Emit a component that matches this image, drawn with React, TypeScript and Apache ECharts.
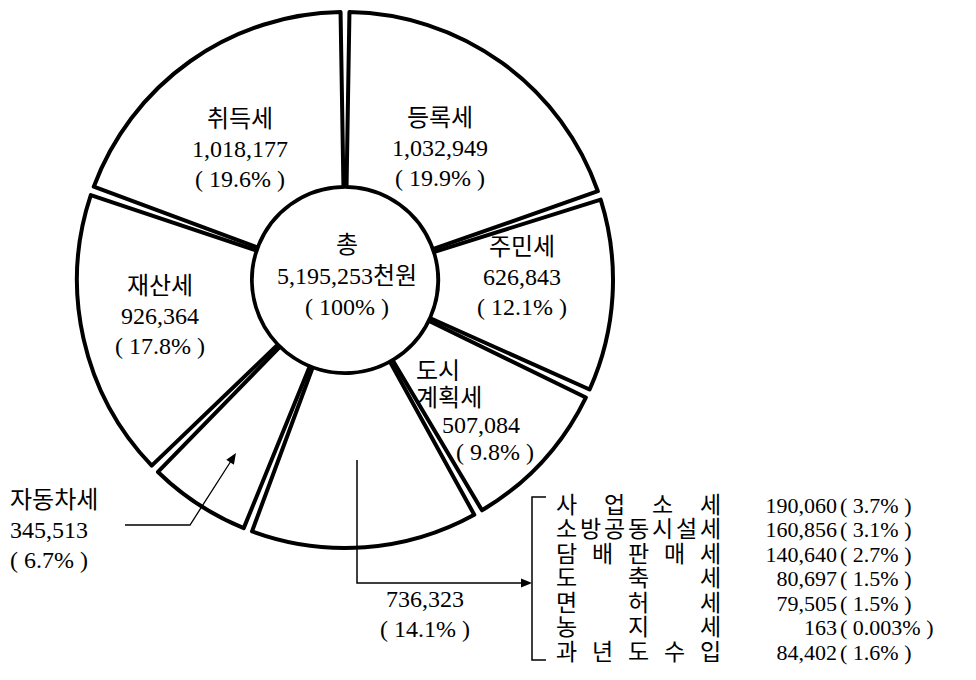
import React, { useEffect, useRef } from "react";
import * as echarts from "echarts";

// ---- data ----
const totalTitle = "총";
const totalValueText = "5,195,253천원";
const totalPercentText = "100";

const taxLabels = ["등록세", "주민세", "도시\n계획세", "", "자동차세", "재산세", "취득세"];
const taxKeys = ["등록세", "주민세", "도시계획세", "기타", "자동차세", "재산세", "취득세"];
const taxValues = [1032949, 626843, 507084, 736323, 345513, 926364, 1018177];
const taxPercents = ["19.9", "12.1", "9.8", "14.1", "6.7", "17.8", "19.6"];

const subNames = ["사업소세", "소방공동시설세", "담배판매세", "도축세", "면허세", "농지세", "과년도수입"];
const subValues = [190060, 160856, 140640, 80697, 79505, 163, 84402];
const subPercents = ["3.7", "3.1", "2.7", "1.5", "1.5", "0.003", "1.6"];

// ---- layout (not data) ----
const CX = 345;
const CY = 280;
const LABEL_POS: { x: number; y: number; align: string }[] = [
  { x: 440, y: 148, align: "center" },
  { x: 522, y: 277, align: "center" },
  { x: 416, y: 411, align: "left" },
  { x: 425, y: 614, align: "center" },
  { x: 10, y: 530, align: "left" },
  { x: 160, y: 316, align: "center" },
  { x: 240, y: 149, align: "center" },
];
const LIST_TOP = 505;
const LIST_STEP = 24.5;
const NAME_X0 = 555;
const NAME_W = 167;
const VALUE_RIGHT = 837;

const FONT = "'Liberation Serif', 'Noto Sans CJK KR', serif";

function fmt(v: number) {
  return v.toLocaleString("en-US");
}

function arrowHead(from: number[], to: number[], len = 11, half = 4.5) {
  const dx = to[0] - from[0];
  const dy = to[1] - from[1];
  const d = Math.hypot(dx, dy);
  const ux = dx / d;
  const uy = dy / d;
  const bx = to[0] - ux * len;
  const by = to[1] - uy * len;
  return [
    [to[0], to[1]],
    [bx - uy * half, by + ux * half],
    [bx + uy * half, by - ux * half],
  ];
}

export default function App() {
  const ref = useRef<HTMLDivElement>(null);
  useEffect(() => {
    document.body.style.margin = "0";
    const chart = echarts.init(ref.current!, null, { renderer: "svg" });

    const pieData = taxValues.map((v, i) => ({ name: taxKeys[i], value: v }));

    const graphics: any[] = [];
    const Z = 100;
    // connector of the "others" slice to the bracket
    const othersPts = [
      [357, 460],
      [357, 583],
      [532, 583],
    ];
    graphics.push({
      type: "polyline",
      z: Z,
      shape: { points: [othersPts[0], othersPts[1], [522, 583]] },
      style: { stroke: "#000", lineWidth: 1.5, fill: null },
    });
    graphics.push({
      type: "polygon",
      z: Z,
      shape: { points: arrowHead(othersPts[1], othersPts[2]) },
      style: { fill: "#000" },
    });
    // connector of 자동차세
    const carPts = [
      [125, 525],
      [190, 525],
      [236, 453],
    ];
    graphics.push({
      type: "polyline",
      z: Z,
      shape: { points: [carPts[0], carPts[1], [231, 461]] },
      style: { stroke: "#000", lineWidth: 1.3, fill: null },
    });
    graphics.push({
      type: "polygon",
      z: Z,
      shape: { points: arrowHead(carPts[1], carPts[2]) },
      style: { fill: "#000" },
    });
    // bracket
    const bTop = LIST_TOP - 8;
    const bBot = LIST_TOP + LIST_STEP * (subNames.length - 1) + 8;
    graphics.push({
      type: "polyline",
      z: Z,
      shape: {
        points: [
          [546, bTop],
          [532, bTop],
          [532, bBot],
          [546, bBot],
        ],
      },
      style: { stroke: "#000", lineWidth: 1.5, fill: null },
    });
    // list of sub items
    const numFont = `22px ${FONT}`;
    subNames.forEach((name, i) => {
      const y = LIST_TOP + LIST_STEP * i;
      const chars = Array.from(name);
      const fs = 23;
      const n = chars.length;
      chars.forEach((ch, k) => {
        const cx = n > 1 ? NAME_X0 + fs / 2 + (k * (NAME_W - fs)) / (n - 1) : NAME_X0 + fs / 2;
        graphics.push({
          type: "text",
          z: Z,
          x: cx,
          y,
          style: { text: ch, font: `${fs}px ${FONT}`, fill: "#000", align: "center", verticalAlign: "middle" },
        });
      });
      graphics.push({
        type: "text",
        z: Z,
        x: VALUE_RIGHT,
        y,
        style: { text: fmt(subValues[i]), font: numFont, fill: "#000", align: "right", verticalAlign: "middle" },
      });
      graphics.push({
        type: "text",
        z: Z,
        x: VALUE_RIGHT + 3,
        y,
        style: {
          text: `( ${subPercents[i]}% )`,
          font: numFont,
          fill: "#000",
          align: "left",
          verticalAlign: "middle",
        },
      });
    });

    const option: any = {
      animation: false,
      backgroundColor: "#fff",
      graphic: graphics,
      series: [
        {
          type: "pie",
          center: [CX, CY],
          radius: [93, 268],
          startAngle: 90,
          clockwise: true,
          padAngle: 1.9,
          silent: true,
          avoidLabelOverlap: false,
          itemStyle: { color: "#fff", borderColor: "#000", borderWidth: 4 },
          emphasis: { disabled: true },
          labelLine: { show: false },
          label: {
            show: true,
            position: "inside",
            color: "#000",
            fontFamily: FONT,
            fontSize: 24,
            lineHeight: 30,
            formatter: (p: any) => {
              const i = p.dataIndex;
              const valueText = fmt(taxValues[i]);
              const pctText = `( ${taxPercents[i]}% )`;
              if (i === 2) {
                const parts = taxLabels[i].split("\n");
                return [...parts.map((s) => `{n|${s}}`), `{v|${valueText}}`, `{p|${pctText}}`].join("\n");
              }
              const lines: string[] = [];
              if (taxLabels[i]) lines.push(taxLabels[i]);
              lines.push(valueText, pctText);
              return lines.join("\n");
            },
            rich: {
              n: { fontFamily: FONT, fontSize: 24, lineHeight: 27, color: "#000" },
              v: { fontFamily: FONT, fontSize: 24, lineHeight: 27, color: "#000", padding: [0, 0, 0, 26] },
              p: { fontFamily: FONT, fontSize: 24, lineHeight: 27, color: "#000", padding: [0, 0, 0, 40] },
            },
          },
          labelLayout: (params: any) => {
            const pos = LABEL_POS[params.dataIndex];
            return { x: pos.x, y: pos.y, align: pos.align, verticalAlign: "middle" };
          },
          data: pieData,
        },
        {
          type: "pie",
          center: [CX, CY],
          radius: [0, 92],
          silent: true,
          itemStyle: { color: "#fff", borderColor: "#000", borderWidth: 1.5 },
          emphasis: { disabled: true },
          labelLine: { show: false },
          label: {
            show: true,
            position: "center",
            color: "#000",
            fontFamily: FONT,
            fontSize: 24,
            lineHeight: 31,
            formatter: () => `${totalTitle}\n${totalValueText}\n( ${totalPercentText}% )`,
          },
          labelLayout: () => ({ x: 347, y: 276, align: "center", verticalAlign: "middle" }),
          data: [{ name: "total", value: 1 }],
        },
      ],
    };
    chart.setOption(option);
    return () => chart.dispose();
  }, []);
  return <div ref={ref} style={{ width: 976, height: 680 }} />;
}
